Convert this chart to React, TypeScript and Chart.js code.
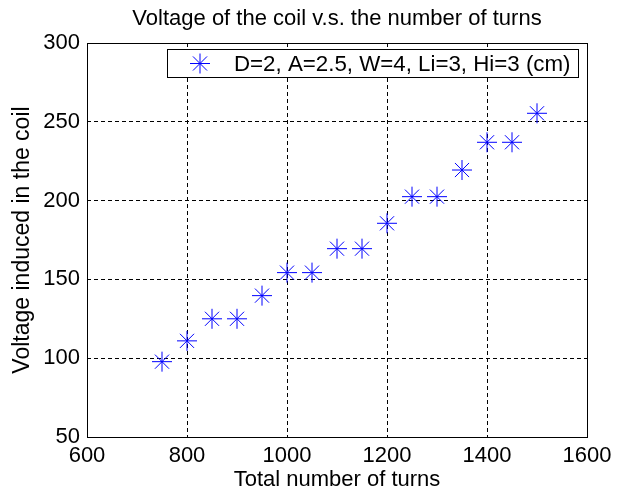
import React, { useEffect, useRef } from 'react';
import { Chart, registerables } from 'chart.js';

Chart.register(...registerables);

const TITLE = 'Voltage of the coil v.s. the number of turns';
const X_LABEL = 'Total number of turns';
const Y_LABEL = 'Voltage induced in the coil';
const SERIES_LABEL = 'D=2, A=2.5, W=4, Li=3, Hi=3 (cm)';

const TURNS = [750, 800, 850, 900, 950, 1000, 1050, 1100, 1150, 1200, 1250, 1300, 1350, 1400, 1450, 1500];
const VOLTAGE = [97.8, 111, 125, 125, 139.7, 154.3, 154.3, 169.5, 169.5, 185.6, 202.5, 202.5, 219.4, 237, 237, 255.4];

const X_TICKS = [600, 800, 1000, 1200, 1400, 1600];
const Y_TICKS = [50, 100, 150, 200, 250, 300];

const FONT = "'Liberation Sans', Arial, Helvetica, sans-serif";
const BLUE = '#0000ff';

const gridColor = (ticks: number[]) => (ctx: any) => {
  const v = ctx.tick ? ctx.tick.value : null;
  if (v === ticks[0] || v === ticks[ticks.length - 1]) return 'rgba(0,0,0,0)';
  return '#000000';
};

const boxPlugin = {
  id: 'matlabBox',
  afterDraw(chart: any) {
    const { ctx, chartArea } = chart;
    const l = Math.round(chartArea.left) + 0.5;
    const t = Math.round(chartArea.top) + 0.5;
    const r = Math.round(chartArea.right) + 0.5;
    const b = Math.round(chartArea.bottom) + 0.5;
    ctx.save();
    ctx.strokeStyle = '#000';
    ctx.lineWidth = 1;
    ctx.setLineDash([]);
    ctx.strokeRect(l, t, r - l, b - t);

    // legend box
    const ds = chart.data.datasets[0];
    const fontSize = 22.3;
    ctx.font = `${fontSize}px ${FONT}`;
    const tw = ctx.measureText(ds.label).width;
    const right = Math.round(chartArea.right) - 9;
    const top = Math.round(chartArea.top) + 6;
    const h = 28;
    const left = Math.round(right - 8 - tw - 34 - 33);
    ctx.fillStyle = '#fff';
    ctx.fillRect(left, top, right - left, h);
    ctx.strokeRect(left + 0.5, top + 0.5, right - left, h);
    // marker
    const cx = left + 33;
    const cy = top + h / 2 + 0.5;
    const rad = 10;
    ctx.strokeStyle = ds.borderColor;
    ctx.lineWidth = ds.borderWidth;
    ctx.beginPath();
    ctx.moveTo(cx - rad, cy); ctx.lineTo(cx + rad, cy);
    ctx.moveTo(cx, cy - rad); ctx.lineTo(cx, cy + rad);
    const d = rad * Math.SQRT1_2;
    ctx.moveTo(cx - d, cy - d); ctx.lineTo(cx + d, cy + d);
    ctx.moveTo(cx - d, cy + d); ctx.lineTo(cx + d, cy - d);
    ctx.stroke();
    // text
    ctx.fillStyle = '#000';
    ctx.textAlign = 'left';
    ctx.textBaseline = 'middle';
    ctx.fillText(ds.label, left + 67, cy + 1);
    ctx.restore();
  },
};

export default function App() {
  const ref = useRef<HTMLCanvasElement | null>(null);
  useEffect(() => {
    document.body.style.margin = '0';
    const canvas = ref.current;
    if (!canvas) return;
    const chart = new Chart(canvas, {
      type: 'scatter',
      data: {
        datasets: [
          {
            label: SERIES_LABEL,
            data: TURNS.map((x, i) => ({ x, y: VOLTAGE[i] })),
            pointStyle: 'star',
            pointRadius: 10,
            pointHoverRadius: 10,
            borderColor: BLUE,
            backgroundColor: BLUE,
            borderWidth: 1,
            showLine: false,
          },
        ],
      },
      options: {
        responsive: false,
        animation: false,
        events: [],
        layout: { padding: { left: 0, right: 36, top: 0, bottom: 0 } },
        plugins: {
          legend: { display: false },
          tooltip: { enabled: false },
          title: {
            display: true,
            text: TITLE,
            fullSize: false,
            color: '#000',
            font: { family: FONT, size: 22, weight: 'normal', lineHeight: 1.2 },
            padding: { top: 6, bottom: 10.6 },
          },
        },
        scales: {
          x: {
            type: 'linear',
            min: X_TICKS[0],
            max: X_TICKS[X_TICKS.length - 1],
            afterBuildTicks: (scale: any) => {
              scale.ticks = X_TICKS.map((v) => ({ value: v }));
            },
            afterFit: (scale: any) => {
              scale.height = 56;
            },
            ticks: {
              color: '#000',
              font: { family: FONT, size: 22 },
              padding: 6,
              maxRotation: 0,
              autoSkip: false,
              callback: (v: any) => String(v),
            },
            grid: { color: gridColor(X_TICKS), lineWidth: 1, drawTicks: false },
            border: { display: false, dash: [4, 3] },
            title: {
              display: true,
              text: X_LABEL,
              color: '#000',
              font: { family: FONT, size: 22, lineHeight: 1.2 },
              padding: { top: 0, bottom: 0 },
            },
          },
          y: {
            type: 'linear',
            min: Y_TICKS[0],
            max: Y_TICKS[Y_TICKS.length - 1],
            afterBuildTicks: (scale: any) => {
              scale.ticks = Y_TICKS.map((v) => ({ value: v }));
            },
            afterFit: (scale: any) => {
              scale.width = 87;
            },
            ticks: {
              color: '#000',
              font: { family: FONT, size: 22 },
              padding: 7,
              autoSkip: false,
              callback: (v: any) => String(v),
            },
            grid: { color: gridColor(Y_TICKS), lineWidth: 1, drawTicks: false },
            border: { display: false, dash: [4, 3] },
            title: {
              display: true,
              text: Y_LABEL,
              color: '#000',
              font: { family: FONT, size: 23, lineHeight: 1.2 },
              padding: { top: 9, bottom: 0 },
            },
          },
        },
      },
      plugins: [boxPlugin],
    });
    return () => chart.destroy();
  }, []);
  return (
    <div style={{ position: 'relative', width: 623, height: 493, background: '#fff' }}>
      <canvas ref={ref} width={623} height={493} style={{ display: 'block', width: 623, height: 493 }} />
    </div>
  );
}
